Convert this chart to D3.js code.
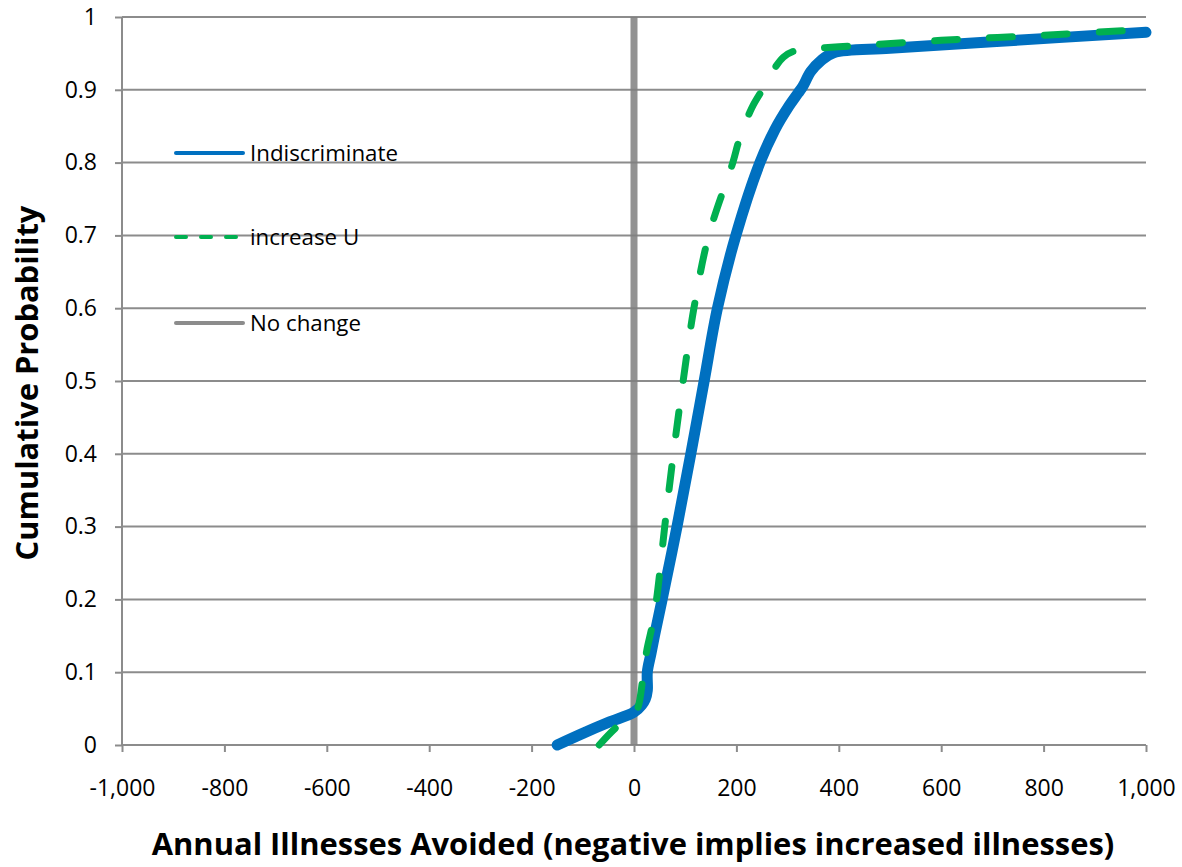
<!DOCTYPE html>
<html><head><meta charset="utf-8">
<script src="https://cdn.jsdelivr.net/npm/d3@7"></script>
<style>body{margin:0;background:#fff}svg{display:block}text{font-family:"Open Sans",sans-serif;fill:#000}</style>
</head><body><svg id="c" width="1182" height="867"></svg>
<script>
const xTicks=[-1000,-800,-600,-400,-200,0,200,400,600,800,1000];
const xTickLabels=["-1,000","-800","-600","-400","-200","0","200","400","600","800","1,000"];
const yTicks=[0,0.1,0.2,0.3,0.4,0.5,0.6,0.7,0.8,0.9,1];
const yTickLabels=["0","0.1","0.2","0.3","0.4","0.5","0.6","0.7","0.8","0.9","1"];
const seriesNames=["Indiscriminate","increase U","No change"];
const indX=[-150,-100,-50,0,15,22,26,26,33,40,55,84,111,137,163,199,246,275,303,320,330,345,365,390,500,700,1000];
const indY=[0,0.016,0.031,0.045,0.055,0.063,0.075,0.1,0.125,0.15,0.2,0.3,0.4,0.5,0.6,0.7,0.8,0.845,0.878,0.895,0.905,0.925,0.94,0.951,0.957,0.966,0.979];
const incX=[-68,-35,0,8,17,25,35,44,60,77,96,117,146,193,205,230,255,275,292,312,340,400,600,800,1000];
const incY=[0,0.024,0.042,0.052,0.09,0.13,0.162,0.2,0.3,0.4,0.5,0.6,0.7,0.8,0.83,0.875,0.905,0.93,0.945,0.953,0.956,0.959,0.968,0.975,0.983];
const noChangeX=[0,0];
const noChangeY=[0,1];

const svg=d3.select("#c");
const x=d3.scaleLinear().domain([-1000,1000]).range([122,1146]);
const y=d3.scaleLinear().domain([0,1]).range([745,17]);

function fitSize(sel,target){const n=sel.node();const fs=+sel.attr("font-size");const w=n.getComputedTextLength();return fs*target/w;}

svg.append("g").selectAll("line").data(yTicks).join("line")
 .attr("x1",x(-1000)).attr("x2",x(1000)).attr("y1",d=>y(d)).attr("y2",d=>y(d))
 .attr("stroke","#8c8c8c").attr("stroke-width",2);
const xAxis=d3.axisBottom(x).tickValues(xTicks).tickFormat((d,i)=>xTickLabels[i]).tickSize(7).tickPadding(10);
const gx=svg.append("g").attr("transform",`translate(0,${y(0)})`).call(xAxis);
const yAxis=d3.axisLeft(y).tickValues(yTicks).tickFormat((d,i)=>yTickLabels[i]).tickSize(7).tickPadding(18);
const gy=svg.append("g").attr("transform",`translate(${x(-1000)},0)`).call(yAxis);
[gx,gy].forEach(g=>{g.select(".domain").attr("stroke","#8c8c8c").attr("stroke-width",2);
 g.selectAll(".tick line").attr("stroke","#8c8c8c").attr("stroke-width",2);
 g.selectAll(".tick text").attr("font-size",20).attr("font-family","'Open Sans',sans-serif").attr("fill","#000");});
const tfs=fitSize(gx.select(".tick text"),66);
gx.selectAll(".tick text").attr("font-size",tfs).attr("dy",null).attr("y",796-745);
gy.selectAll(".tick text").attr("font-size",tfs);
gx.select(".domain").attr("d",`M${x(-1000)},0H${x(1000)}`);
gy.select(".domain").attr("d",`M0,${y(1)}V${y(0)}`);

const line=d3.line().x(d=>x(d[0])).y(d=>y(d[1])).curve(d3.curveCatmullRom.alpha(0.5));
svg.append("path").datum(noChangeX.map((v,i)=>[v,noChangeY[i]])).attr("d",d3.line().x(d=>x(d[0])).y(d=>y(d[1])))
 .attr("stroke","#7f7f7f").attr("stroke-opacity",0.85).attr("stroke-width",7).attr("fill","none");
svg.append("path").datum(indX.map((v,i)=>[v,indY[i]])).attr("d",line)
 .attr("stroke","#0070C0").attr("stroke-width",11).attr("fill","none").attr("stroke-linecap","round").attr("stroke-linejoin","round");
svg.append("path").datum(incX.map((v,i)=>[v,incY[i]])).attr("d",line)
 .attr("stroke","#00B050").attr("stroke-width",7).attr("fill","none").attr("stroke-linecap","round")
 .attr("stroke-dasharray","23,32");

const legY=[153,237,323];
const legStyles=[{c:"#0070C0",w:4,d:null},{c:"#00B050",w:4,d:"10,15"},{c:"#8c8c8c",w:4,d:null}];
const lg=svg.append("g");
const legTexts=[];
seriesNames.forEach((n,i)=>{
 const l=lg.append("line").attr("x1",176).attr("x2",243).attr("y1",legY[i]).attr("y2",legY[i])
  .attr("stroke",legStyles[i].c).attr("stroke-width",legStyles[i].w).attr("stroke-linecap","round");
 if(legStyles[i].d) l.attr("stroke-dasharray",legStyles[i].d);
 legTexts.push(lg.append("text").attr("x",250).attr("y",legY[i]).attr("dy","0.36em").attr("font-size",19).text(n));
});
const lfs=fitSize(legTexts[0],148);
legTexts.forEach(t=>t.attr("font-size",lfs));

const xt=svg.append("text").attr("x",633).attr("y",855).attr("text-anchor","middle").attr("font-size",28).attr("font-weight","bold")
 .text("Annual Illnesses Avoided (negative implies increased illnesses)");
xt.attr("font-size",fitSize(xt,963));
const yt=svg.append("text").attr("transform","translate(38,383) rotate(-90)").attr("text-anchor","middle").attr("font-size",26).attr("font-weight","bold")
 .text("Cumulative Probability");
yt.attr("font-size",fitSize(yt,355));
</script></body></html>
